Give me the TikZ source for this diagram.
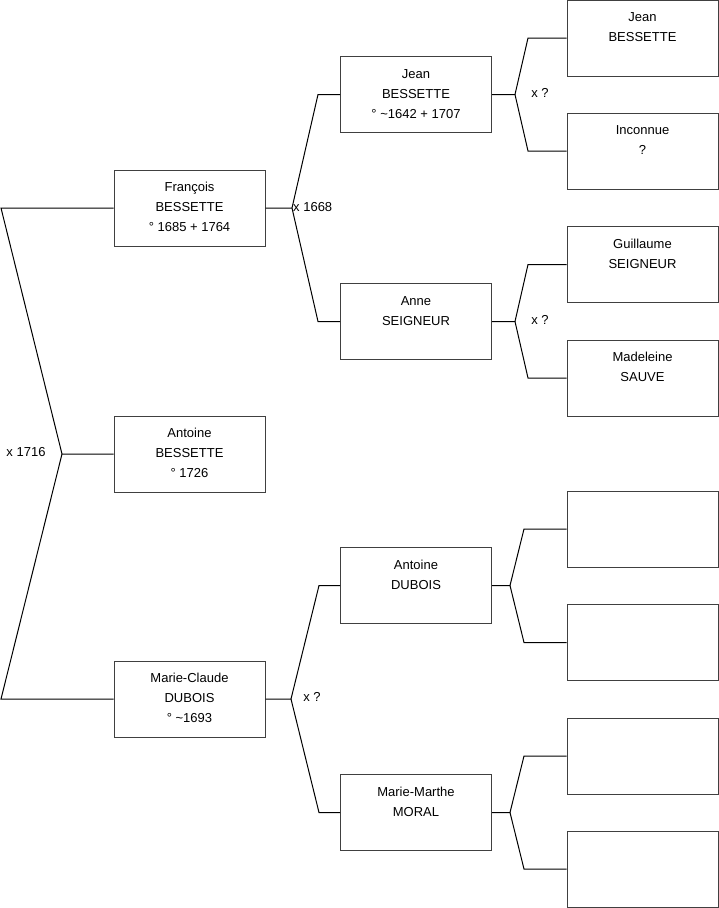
\documentclass[tikz,border=0pt]{standalone}
\usepackage{fontspec}
\setmainfont{Liberation Sans}
\newcommand\who[1]{\parbox[c][76pt][t]{151pt}{\centering\rule{0pt}{21.5pt}#1}}
\tikzset{
  person/.style={draw=black!75, line width=1pt, minimum width=151pt, minimum height=76pt, inner sep=0pt},
  link/.style={draw=black, line width=1pt},
  union/.style={inner sep=1pt}
}
\begin{document}
\begin{tikzpicture}[x=1pt, y=-1pt, font=\fontsize{13}{20}\selectfont]
\useasboundingbox (0,0) rectangle (719,908);
% first generation
\node[person] (fran) at (189.5,208) {\who{François\\BESSETTE\\° 1685 + 1764}};
\node[person] (anto) at (189.5,454) {\who{Antoine\\BESSETTE\\° 1726}};
\node[person] (marie) at (189.5,699) {\who{Marie-Claude\\DUBOIS\\° \textasciitilde1693}};
% second generation
\node[person] (jean) at (416,94.5) {\who{Jean\\BESSETTE\\° \textasciitilde1642 + 1707}};
\node[person] (anne) at (416,321.5) {\who{Anne\\SEIGNEUR}};
\node[person] (dubois) at (416,585.5) {\who{Antoine\\DUBOIS}};
\node[person] (moral) at (416,812.5) {\who{Marie-Marthe\\MORAL}};
% third generation
\foreach \i/\y/\t in {1/38/{Jean\\BESSETTE}, 2/151/{Inconnue\\?}, 3/264.5/{Guillaume\\SEIGNEUR}, 4/378/{Madeleine\\SAUVE}, 5/529/{}, 6/642.5/{}, 7/756/{}, 8/869/{}}
  \node[person] (g\i) at (642.5,\y) {\who{\t}};

% Antoine's parents
\coordinate (k0) at (62,454);
\draw[link] (anto.west) -- (k0) -- (1,0 |- fran.west) -- (fran.west);
\draw[link] (k0) -- (1,0 |- marie.west) -- (marie.west);
\node[union] (m0) at (26,452) {x 1716};

% parents of each person
\foreach \p/\a/\b/\jx/\ax in {fran/jean/anne/292/318, marie/dubois/moral/291/319, jean/g1/g2/515/528, anne/g3/g4/515/528, dubois/g5/g6/510/524, moral/g7/g8/510/524} {
  \coordinate (k-\p) at (\jx,0 |- \p.east);
  \draw[link] (\p.east) -- (k-\p) -- (\ax,0 |- \a.west) -- (\a.west);
  \draw[link] (k-\p) -- (\ax,0 |- \b.west) -- (\b.west);
}
\node[union, anchor=west] (m1) at (292,207) {x 1668};
\node[union] (m2) at (312,697) {x ?};
\node[union] (m3) at (540,93) {x ?};
\node[union] (m4) at (540,320) {x ?};
\end{tikzpicture}
\end{document}
